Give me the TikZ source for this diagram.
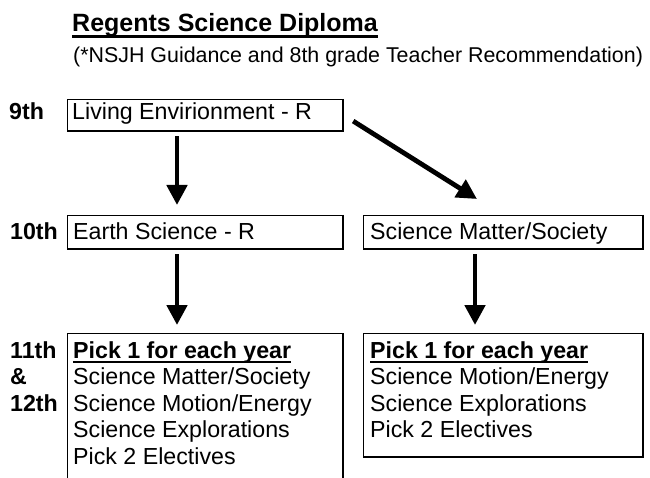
\documentclass[tikz,border=0pt]{standalone}
\usepackage{fontspec}
\setmainfont{Liberation Sans}
\usetikzlibrary{arrows.meta}
\tikzset{
  boxnode/.style={draw, line width=1.2pt, rectangle, inner sep=0pt, anchor=north west},
  txt/.style={inner sep=0pt, anchor=base west, font=\fontsize{23.2}{24}\selectfont},
  lbl/.style={inner sep=0pt, anchor=base west, font=\fontsize{23.2}{24}\selectfont\bfseries},
  arr/.style={line width=4.8pt, -{Triangle[width=20pt,length=20pt]}},
  shade/.style={line width=2.4pt},
  uline/.style={line width=1.8pt}
}
\begin{document}
\begin{tikzpicture}[x=1pt,y=-1pt]
\useasboundingbox (0,0) rectangle (650,478);
\begin{scope}
\clip (0,0) rectangle (650,478);
% title
\node[inner sep=0pt, anchor=base west, font=\fontsize{25}{26}\selectfont\bfseries] (title) at (72,32) {Regents Science Diploma};
\draw[line width=2.4pt] ([yshift=-4.5pt]title.base west) -- ([yshift=-4.5pt]title.base east);
\node[inner sep=0pt, anchor=base west, font=\fontsize{21.4}{22}\selectfont] (sub) at (73,63) {(*NSJH Guidance and 8th grade Teacher Recommendation)};
% row labels
\node[lbl] (g9) at (9,120) {9th};
\node[lbl] (g10) at (10,240) {10th};
\node[lbl] (g11) at (10,358) {11th};
\node[lbl] (gamp) at (10,384.5) {\&};
\node[lbl] (g12) at (10,411) {12th};
% boxes
\node[boxnode, minimum width=275pt, minimum height=31pt] (liv) at (67,99) {};
\node[boxnode, minimum width=275pt, minimum height=33pt] (earth) at (67,215) {};
\node[boxnode, minimum width=279pt, minimum height=33pt] (sms) at (363,215) {};
\node[boxnode, minimum width=275pt, minimum height=170pt] (pickL) at (67,333) {};
\node[boxnode, minimum width=279pt, minimum height=123pt] (pickR) at (363,333) {};
\foreach \b in {liv,earth,sms,pickR}{
  \draw[shade] (\b.north east) -- (\b.south east) -- (\b.south west);
}
\draw[shade] (pickL.north east) -- (pickL.south east);
% box texts
\node[txt] (livt) at (72,120) {Living Envirionment - R};
\node[txt] (eartht) at (73,240) {Earth Science - R};
\node[txt] (smst) at (370,240) {Science Matter/Society};
\node[txt, font=\fontsize{23.2}{24}\selectfont\bfseries] (pl1) at (73,358) {Pick 1 for each year};
\draw[uline] ([yshift=-4pt]pl1.base west) -- ([yshift=-4pt]pl1.base east);
\node[txt] (pl2) at (73,384.5) {Science Matter/Society};
\node[txt] (pl3) at (73,411) {Science Motion/Energy};
\node[txt] (pl4) at (73,437.5) {Science Explorations};
\node[txt] (pl5) at (73,464) {Pick 2 Electives};
\node[txt, font=\fontsize{23.2}{24}\selectfont\bfseries] (pr1) at (370,358) {Pick 1 for each year};
\draw[uline] ([yshift=-4pt]pr1.base west) -- ([yshift=-4pt]pr1.base east);
\node[txt] (pr2) at (370,384.5) {Science Motion/Energy};
\node[txt] (pr3) at (370,411) {Science Explorations};
\node[txt] (pr4) at (370,437.5) {Pick 2 Electives};
% arrows
\draw[arr] ([xshift=110pt,yshift=-5pt]liv.south west) -- ([xshift=110pt,yshift=10pt]earth.north west);
\draw[arr] ([xshift=10pt,yshift=-6pt]liv.east) -- ([xshift=114pt,yshift=16pt]sms.north west);
\draw[arr] ([xshift=110pt,yshift=-5pt]earth.south west) -- ([xshift=110pt,yshift=8pt]pickL.north west);
\draw[arr] ([xshift=112pt,yshift=-5pt]sms.south west) -- ([xshift=112pt,yshift=8pt]pickR.north west);
\end{scope}
\end{tikzpicture}
\end{document}
